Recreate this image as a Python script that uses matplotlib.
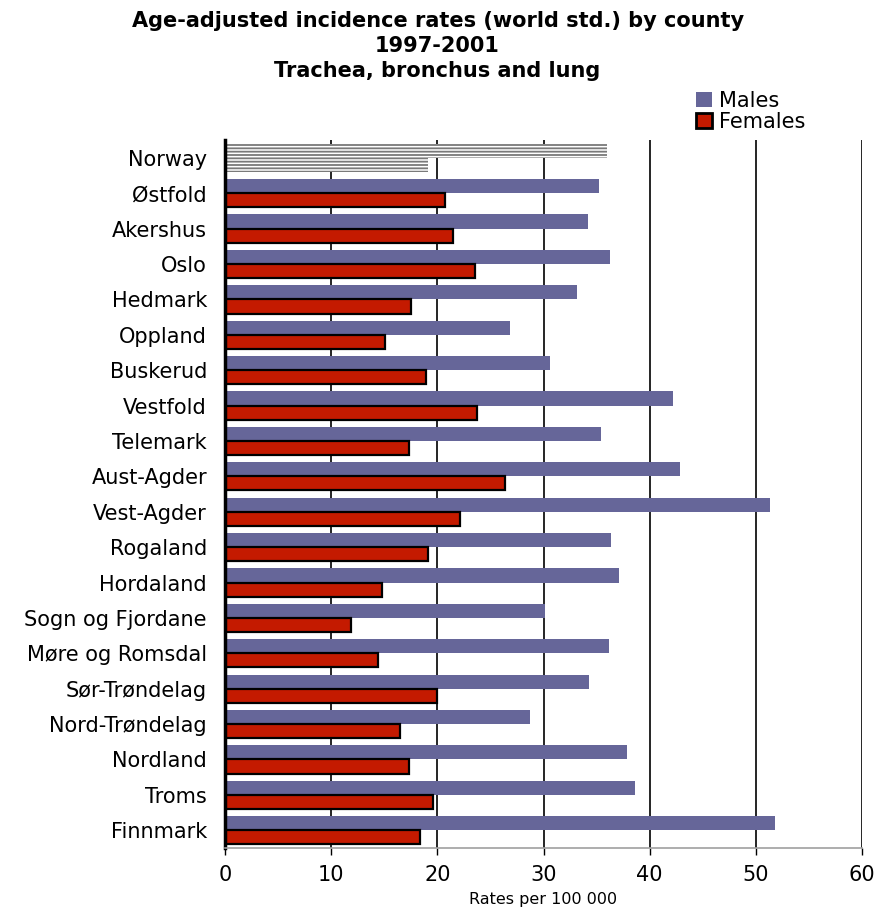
import numpy as np
from matplotlib import pyplot as plt
from matplotlib.patches import Patch

# Incidence per 100 000, world standard population, 1997-2001
counties = ['Norway', 'Østfold', 'Akershus', 'Oslo', 'Hedmark', 'Oppland',
            'Buskerud', 'Vestfold', 'Telemark', 'Aust-Agder', 'Vest-Agder',
            'Rogaland', 'Hordaland', 'Sogn og Fjordane', 'Møre og Romsdal',
            'Sør-Trøndelag', 'Nord-Trøndelag', 'Nordland', 'Troms', 'Finnmark']
males = [36.0, 35.2, 34.2, 36.3, 33.2, 26.8, 30.6, 42.2, 35.4, 42.9, 51.3,
         36.4, 37.1, 30.1, 36.2, 34.3, 28.7, 37.9, 38.6, 51.8]
females = [19.1, 20.7, 21.5, 23.5, 17.5, 15.1, 18.9, 23.7, 17.3, 26.4, 22.1,
           19.1, 14.8, 11.9, 14.4, 20.0, 16.5, 17.3, 19.6, 18.4]
xticks = [0, 10, 20, 30, 40, 50, 60]

male_col = '#666699'
female_col = '#C41A00'
h = 0.4

plt.rcParams['hatch.linewidth'] = 1.3

fig = plt.figure(figsize=(8.77, 9.11), dpi=100)
ax = fig.add_axes([0.2566, 0.0692, 0.7263, 0.777])

y = np.arange(len(counties))

# national total drawn hatched, counties solid
ax.barh(y[0] - h / 2, males[0], height=h, color='white', edgecolor='#7a7a7a',
        hatch='-----', linewidth=0)
ax.barh(y[0] + h / 2, females[0], height=h, color='white', edgecolor='#7a7a7a',
        hatch='-----', linewidth=0)
ax.barh(y[1:] - h / 2, males[1:], height=h, color=male_col, linewidth=0)
ax.barh(y[1:] + h / 2, females[1:], height=h, color=female_col,
        edgecolor='black', linewidth=1.6)

ax.set_ylim(len(counties) - 0.5, -0.5)
ax.set_xlim(0, 60)
ax.set_yticks(y)
ax.set_yticklabels(counties, fontsize=15)
ax.set_xticks(xticks)
ax.set_xticklabels([str(t) for t in xticks], fontsize=15)
ax.tick_params(axis='y', length=0, pad=13)
ax.tick_params(axis='x', direction='out', length=5, width=1, pad=7)
ax.set_xlabel('Rates per 100 000', fontsize=11.5, labelpad=5)

ax.set_axisbelow(True)
ax.xaxis.grid(True, color='black', linewidth=1.2)
for s in ['top', 'right']:
    ax.spines[s].set_visible(False)
ax.spines['left'].set_linewidth(2.5)
ax.spines['bottom'].set_color('#a0a0a0')
ax.spines['bottom'].set_linewidth(1.2)

handles = [Patch(facecolor=male_col, edgecolor='none', label='Males'),
           Patch(facecolor=female_col, edgecolor='black', linewidth=2,
                 label='Females')]
fig.legend(handles=handles, loc='upper left', bbox_to_anchor=(0.782, 0.912),
           frameon=False, fontsize=15, handlelength=0.75, handleheight=0.75,
           handletextpad=0.35, labelspacing=0.05, borderpad=0)

fig.text(0.499, 0.988, 'Age-adjusted incidence rates (world std.) by county\n'
         '1997-2001\nTrachea, bronchus and lung', ha='center', va='top',
         fontsize=15, fontweight='bold', linespacing=1.3)

fig.savefig('out.png', dpi=100)
